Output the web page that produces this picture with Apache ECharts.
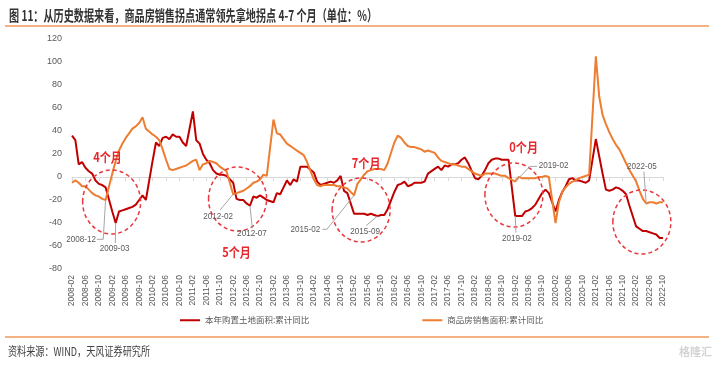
<!DOCTYPE html>
<html><head><meta charset="utf-8">
<script src="https://cdn.jsdelivr.net/npm/echarts@6/dist/echarts.min.js"></script>
<style>html,body{margin:0;padding:0;background:#fff}#c{width:720px;height:365px}</style>
</head><body><div id="c"></div>
<script>
// ---------- DATA ----------
// monthly categories 2008-02 ... 2022-10
const categories = [];
for (let y = 2008; y <= 2022; y++) {
  for (let m = 1; m <= 12; m++) {
    if (y === 2008 && m < 2) continue;
    if (y === 2022 && m > 10) continue;
    categories.push(y + '-' + String(m).padStart(2, '0'));
  }
}
// 本年购置土地面积:累计同比 (%) — January has no release (null)
const landPurchase = [
  36,32,11,13,8,5,3,-3,-6,-7,-9,            // 2008-02..2008-12
  null,-30,-40,-30,-29,-28,-27,-26,-24,-20,-16,-20, // 2009
  null,14,30,27,34,35,33,37,35,35,30,27,     // 2010
  null,57,32,29,20,15,12,6,3,2,2,1,          // 2011
  null,-5,-19,-20,-20,-23,-25,-17,-18,-16,-18,-20, // 2012
  null,-22,-14,-15,-9,-3,-7,-2,-4,9,9,9,     // 2013
  null,4,-4,-7,-6,-5,-4,-5,-3,1,-12,-14,     // 2014
  null,-32,-32,-32,-32,-33,-32,-33,-34,-33,-33,-28, // 2015
  null,-13,-7,-6,-4,-8,-7,-5,-5,-5,-4,3,     // 2016
  null,7,9,6,10,9,11,11,12,15,17,12,         // 2017
  null,-1,-2,1,6,12,15,16,16,15,15,15,       // 2018
  null,-34,-34,-34,-30,-29,-27,-24,-19,-14,-11,-14, // 2019
  null,-30,-20,-13,-8,-2,-1,-3,-3,-4,-5,-3,  // 2020
  null,33,18,3,-11,-12,-11,-9,-10,-12,-15,-25, // 2021
  null,-43,-45,-47,-47,-48,-49,-50,-53,-53   // 2022
];
// 商品房销售面积:累计同比 (%)
const salesArea = [
  -5,-3,-5,-8,-8,-11,-14,-16,-17,-19,-20,    // 2008-02..2008-12
  null,3,14,23,29,34,38,42,44,47,52,42,      // 2009
  null,37,35,32,24,15,7,6,7,8,9,10,          // 2010
  null,14,15,6,11,12,14,13,12,9,7,5,         // 2011
  null,-15,-14,-13,-12,-10,-8,-5,-4,-2,2,1,  // 2012
  null,50,38,37,33,29,27,25,23,21,19,13,     // 2013
  null,-2,-7,-8,-7,-7,-7,-7,-8,-8,-9,-10,    // 2014
  null,-16,-6,-2,2,5,6,7,7,7,6,12,           // 2015
  null,30,36,34,30,27,26,26,25,24,22,23,     // 2016
  null,21,17,14,13,12,11,11,10,9,9,7,        // 2017
  null,3,2,1,3,3,3,3,2,1,1,-1,               // 2018
  null,-4,0,-1,-1,-1,-1,-1,0,0,1,0,          // 2019
  null,-40,-22,-13,-9,-6,-4,-3,-1,0,1,2,     // 2020
  null,105,70,54,46,39,33,28,24,18,12,6,     // 2021
  null,-4,-12,-19,-23,-22,-22,-23,-22,-22    // 2022
];
const seriesNames = ['本年购置土地面积:累计同比', '商品房销售面积:累计同比'];
const yMin = -80, yMax = 120, yStep = 20;

// ---------- STYLE ----------
const FONT = '"Liberation Sans","Noto Sans CJK SC",sans-serif';
const CJK = '"Noto Sans CJK SC","Liberation Sans",sans-serif';
const RED = '#c00000', ORANGE = '#ed7d31', GREY = '#595959';

const chart = echarts.init(document.getElementById('c'), null, {renderer: 'canvas', width: 720, height: 365});
chart.setOption({
  animation: false,
  backgroundColor: '#ffffff',
  grid: {left: 72, right: 57, top: 39, bottom: 96},
  legend: {
    left: 175, top: 311, itemWidth: 20, itemHeight: 2, itemGap: 113, icon: 'rect',
    textStyle: {fontSize: 8.5, color: GREY, fontFamily: CJK},
    data: seriesNames
  },
  xAxis: [
    {type: 'category', data: categories, boundaryGap: false,
     axisLine: {show: false, onZero: false}, axisTick: {show: false},
     axisLabel: {interval: 3, rotate: 90, fontSize: 8.5, color: GREY, margin: 6, fontFamily: FONT}},
    {type: 'category', data: categories, boundaryGap: false, position: 'bottom',
     axisLine: {show: true, onZero: true, lineStyle: {color: '#d9d9d9', width: 1}},
     axisTick: {show: true, interval: 3, length: 4, lineStyle: {color: '#d9d9d9'}},
     axisLabel: {show: false}}
  ],
  yAxis: {type: 'value', min: yMin, max: yMax, interval: yStep,
    axisLine: {show: false}, axisTick: {show: false}, splitLine: {show: false},
    axisLabel: {fontSize: 9, color: GREY, margin: 10, fontFamily: FONT}},
  series: [
    {name: seriesNames[0], type: 'line', data: landPurchase, symbol: 'none', showSymbol: false,
     connectNulls: true, lineStyle: {color: RED, width: 2}, itemStyle: {color: RED}},
    {name: seriesNames[1], type: 'line', data: salesArea, symbol: 'none', showSymbol: false,
     connectNulls: true, lineStyle: {color: ORANGE, width: 2}, itemStyle: {color: ORANGE}}
  ]
});

// ---------- ANNOTATIONS (positioned through the chart's own scales) ----------
const nCat = categories.length;
const xa = chart.convertToPixel({xAxisIndex: 0}, categories[0]);
const xb = chart.convertToPixel({xAxisIndex: 0}, categories[nCat - 1]);
const px = (i, v) => [xa + (xb - xa) * i / (nCat - 1), chart.convertToPixel({yAxisIndex: 0}, v)];
const anchor = (arr, month) => { const k = categories.indexOf(month); return px(k, arr[k]); };
const P = p => p.a ? anchor(p.a === 'land' ? landPurchase : salesArea, p.m) : px(p.i, p.v);

const circles = [{i: 11.8, v: -21.7}, {i: 49.3, v: -19.1}, {i: 86.1, v: -28.7}, {i: 131.6, v: -15.7}, {i: 169.7, v: -39.1}];
const leadTexts = [
  {t: '4个月', i: 10.6, v: 17.4}, {t: '5个月', i: 49.0, v: -65.2},
  {t: '7个月', i: 87.6, v: 12.2}, {t: '0个月', i: 134.5, v: 26.1}
];
const dateNotes = [
  {t: '2008-12', i: 2.7, v: -54.2, line: [{i: 7.4, v: -54.2}, {i: 9.3, v: -54.2}, {a: 'sales', m: '2008-12'}]},
  {t: '2009-03', i: 12.7, v: -62.6, line: [{i: 12.9, v: -57.4}, {a: 'land', m: '2009-03'}]},
  {t: '2012-02', i: 43.5, v: -34.5, line: [{i: 44.1, v: -28.7}, {a: 'sales', m: '2012-02'}]},
  {t: '2012-07', i: 53.6, v: -49.0, line: [{i: 53.7, v: -44.6}, {a: 'land', m: '2012-07'}]},
  {t: '2015-02', i: 69.5, v: -45.5, line: [{i: 74.6, v: -45.5}, {i: 75.9, v: -45.5}, {a: 'sales', m: '2015-02'}]},
  {t: '2015-09', i: 87.3, v: -47.6, line: [{i: 87.6, v: -42.2}, {a: 'land', m: '2015-09'}]},
  {t: '2019-02', i: 143.4, v: 9.6, line: [{a: 'sales', m: '2019-02'}, {i: 136.4, v: 9.2}, {i: 138.5, v: 9.2}]},
  {t: '2019-02', i: 132.5, v: -53.9, line: [{a: 'land', m: '2019-02'}, {i: 132.2, v: -48.3}]},
  {t: '2022-05', i: 169.7, v: 9.0, line: [{i: 170.3, v: 4.6}, {a: 'sales', m: '2022-05'}]}
];

const titleText = '图 11：从历史数据来看，商品房销售拐点通常领先拿地拐点 4-7 个月（单位：%）';
const footText = '资料来源：WIND，天风证券研究所';
const ctx = document.createElement('canvas').getContext('2d');
function fitScale(text, font, target) { ctx.font = font; return target / ctx.measureText(text).width; }

const g = [];
g.push({type: 'text', x: 9, y: 15, scaleX: fitScale(titleText, 'bold 15px "Noto Sans CJK SC"', 368),
  style: {text: titleText, fontSize: 15, fontWeight: 'bold', fontFamily: '"Noto Sans CJK SC"', fill: '#333333', verticalAlign: 'middle'}});
g.push({type: 'line', shape: {x1: 5, y1: 26, x2: 709, y2: 26}, style: {stroke: '#f4b183', lineWidth: 2}});
g.push({type: 'line', shape: {x1: 5, y1: 337, x2: 709, y2: 337}, style: {stroke: '#f4b183', lineWidth: 2}});
g.push({type: 'text', x: 8, y: 351, scaleX: fitScale(footText, '12px "Noto Sans CJK SC"', 142),
  style: {text: footText, fontSize: 12, fontFamily: '"Noto Sans CJK SC"', fill: '#404040', verticalAlign: 'middle'}});
g.push({type: 'text', x: 712, y: 352, style: {text: '格隆汇', fontSize: 11, fontWeight: 'bold', fontFamily: '"Noto Sans CJK SC"', fill: '#d4d4d4', align: 'right', verticalAlign: 'middle'}});

circles.forEach(c => { const [cx, cy] = px(c.i, c.v);
  g.push({type: 'ellipse', shape: {cx, cy, rx: 29, ry: 32}, style: {fill: 'none', stroke: '#e8383d', lineWidth: 1.5, lineDash: [4, 3]}, z: 10}); });
leadTexts.forEach(l => { const [x, y] = px(l.i, l.v);
  g.push({type: 'text', x, y, scaleX: 0.85, z: 11, style: {text: l.t, fontSize: 13, fontWeight: 'bold', fontFamily: CJK, fill: '#e8262b', align: 'center', verticalAlign: 'middle'}}); });
dateNotes.forEach(d => {
  g.push({type: 'polyline', shape: {points: d.line.map(P)}, style: {stroke: '#a6a6a6', lineWidth: 1, fill: 'none'}, z: 10});
  const [x, y] = px(d.i, d.v);
  g.push({type: 'text', x, y, scaleX: 0.9, z: 11, style: {text: d.t, fontSize: 9, fontFamily: FONT, fill: GREY, align: 'center', verticalAlign: 'middle'}});
});
chart.setOption({graphic: g});
</script>
</body></html>
